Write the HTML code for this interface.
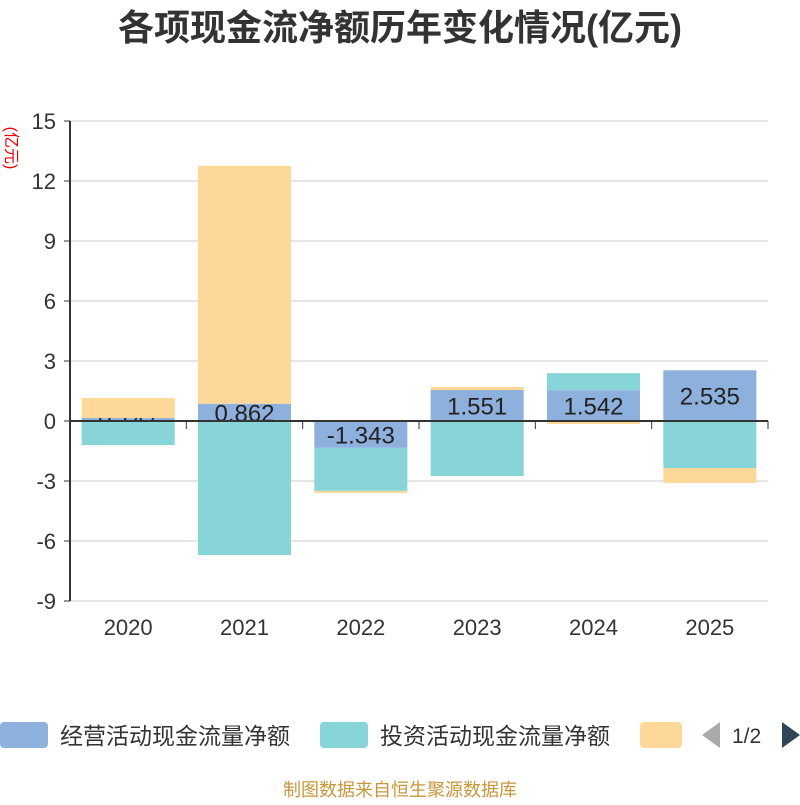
<!DOCTYPE html>
<html><head><meta charset="utf-8"><style>
body{margin:0;background:#fff;}
svg text{font-family:"Liberation Sans","Noto Sans CJK SC",sans-serif;}
</style></head><body>
<svg id="c" width="800" height="800">
<text x="400" y="40" text-anchor="middle" font-size="36" font-weight="bold" fill="#333">各项现金流净额历年变化情况(亿元)</text>
<text transform="translate(6,148) rotate(90)" text-anchor="middle" font-size="16" fill="#e00">(亿元)</text>
<g id="grid"></g><g id="bars"></g><g id="axes"></g>
<g>
<rect x="0" y="722" width="48" height="26" rx="4" fill="#8eb0dd"/>
<text x="60" y="744" font-size="23" fill="#333">经营活动现金流量净额</text>
<rect x="320" y="722" width="48" height="26" rx="4" fill="#87d5d8"/>
<text x="380" y="744" font-size="23" fill="#333">投资活动现金流量净额</text>
<rect x="640" y="722" width="42" height="26" rx="4" fill="#fed899"/>
<path d="M720 722 L702 735 L720 748Z" fill="#aaa"/>
<text x="732" y="743" font-size="21" fill="#333">1/2</text>
<path d="M782 722 L800 735 L782 748Z" fill="#2f4554"/>
</g>
<text x="400" y="796" text-anchor="middle" font-size="18" fill="#c8963c">制图数据来自恒生聚源数据库</text>
</svg>
<script>
const years=["2020","2021","2022","2023","2024","2025"];
const operating=[0.147,0.862,-1.343,1.551,1.542,2.535];
const investing=[-1.2,-6.7,-2.15,-2.75,0.85,-2.35];
const financing=[1.0,11.9,-0.1,0.15,-0.15,-0.75];
const yTicks=[-9,-6,-3,0,3,6,9,12,15];
const X0=70,X1=768,Y15=121,Ym9=601;
const ns="http://www.w3.org/2000/svg";
function y(v){return Ym9+(v+9)*(Y15-Ym9)/24;}
const bw=(X1-X0)/years.length;
function xc(i){return X0+bw*(i+0.5);}
function mk(tag,at,parent){const e=document.createElementNS(ns,tag);for(const k in at)e.setAttribute(k,at[k]);document.getElementById(parent).appendChild(e);return e;}
yTicks.forEach(t=>{
 const g=mk('line',{x1:X0,x2:X1,y1:y(t),y2:y(t),stroke:t===0?'none':'#ccc','stroke-width':1},'grid');
 
 
 const tk=mk('line',{x1:X0-6,x2:X0,y1:y(t),y2:y(t),stroke:'#333'},'axes');
 
 
 const l=mk('text',{x:X0-14,y:y(t)+8,'text-anchor':'end','font-size':22,fill:'#333'},'axes');
 l.textContent=t;
 
 
});
const ya=mk('line',{x1:X0,x2:X0,y1:Y15,y2:Ym9,stroke:'#333','stroke-width':2},'axes');


const xa=mk('line',{x1:X0,x2:X1,y1:y(0),y2:y(0),stroke:'#333','stroke-width':2},'axes');


years.forEach((yr,i)=>{
 const tk=mk('line',{x1:X0+bw*(i+1),x2:X0+bw*(i+1),y1:y(0),y2:y(0)+8,stroke:'#333'},'axes');
 
 
 const l=mk('text',{x:xc(i),y:635,'text-anchor':'middle','font-size':22,fill:'#333'},'axes');
 l.textContent=yr;
 
 
});
const series=[[operating,'#8eb0dd','operating'],[investing,'#87d5d8','investing'],[financing,'#fed899','financing']];
const pos=years.map(()=>0),neg=years.map(()=>0);
series.forEach(([arr,col,nm],si)=>{
 years.forEach((yr,i)=>{
  const v=arr[i];let a,b;
  if(v>=0){a=pos[i];b=a+v;pos[i]=b;}else{a=neg[i];b=a+v;neg[i]=b;}
  const top=Math.min(y(a),y(b)),h=Math.abs(y(a)-y(b));
  const r=mk('rect',{x:xc(i)-bw*0.4,y:top,width:bw*0.8,height:h,fill:col},'bars');
  
  
 });
 if(si===0){
  years.forEach((yr,i)=>{
   const v=operating[i];
   const l=mk('text',{x:xc(i),y:y(v/2)+9,'text-anchor':'middle','font-size':24,fill:'#222'},'bars');
   l.textContent=v.toFixed(3);
   
   
  });
 }
});
</script>
</body></html>
